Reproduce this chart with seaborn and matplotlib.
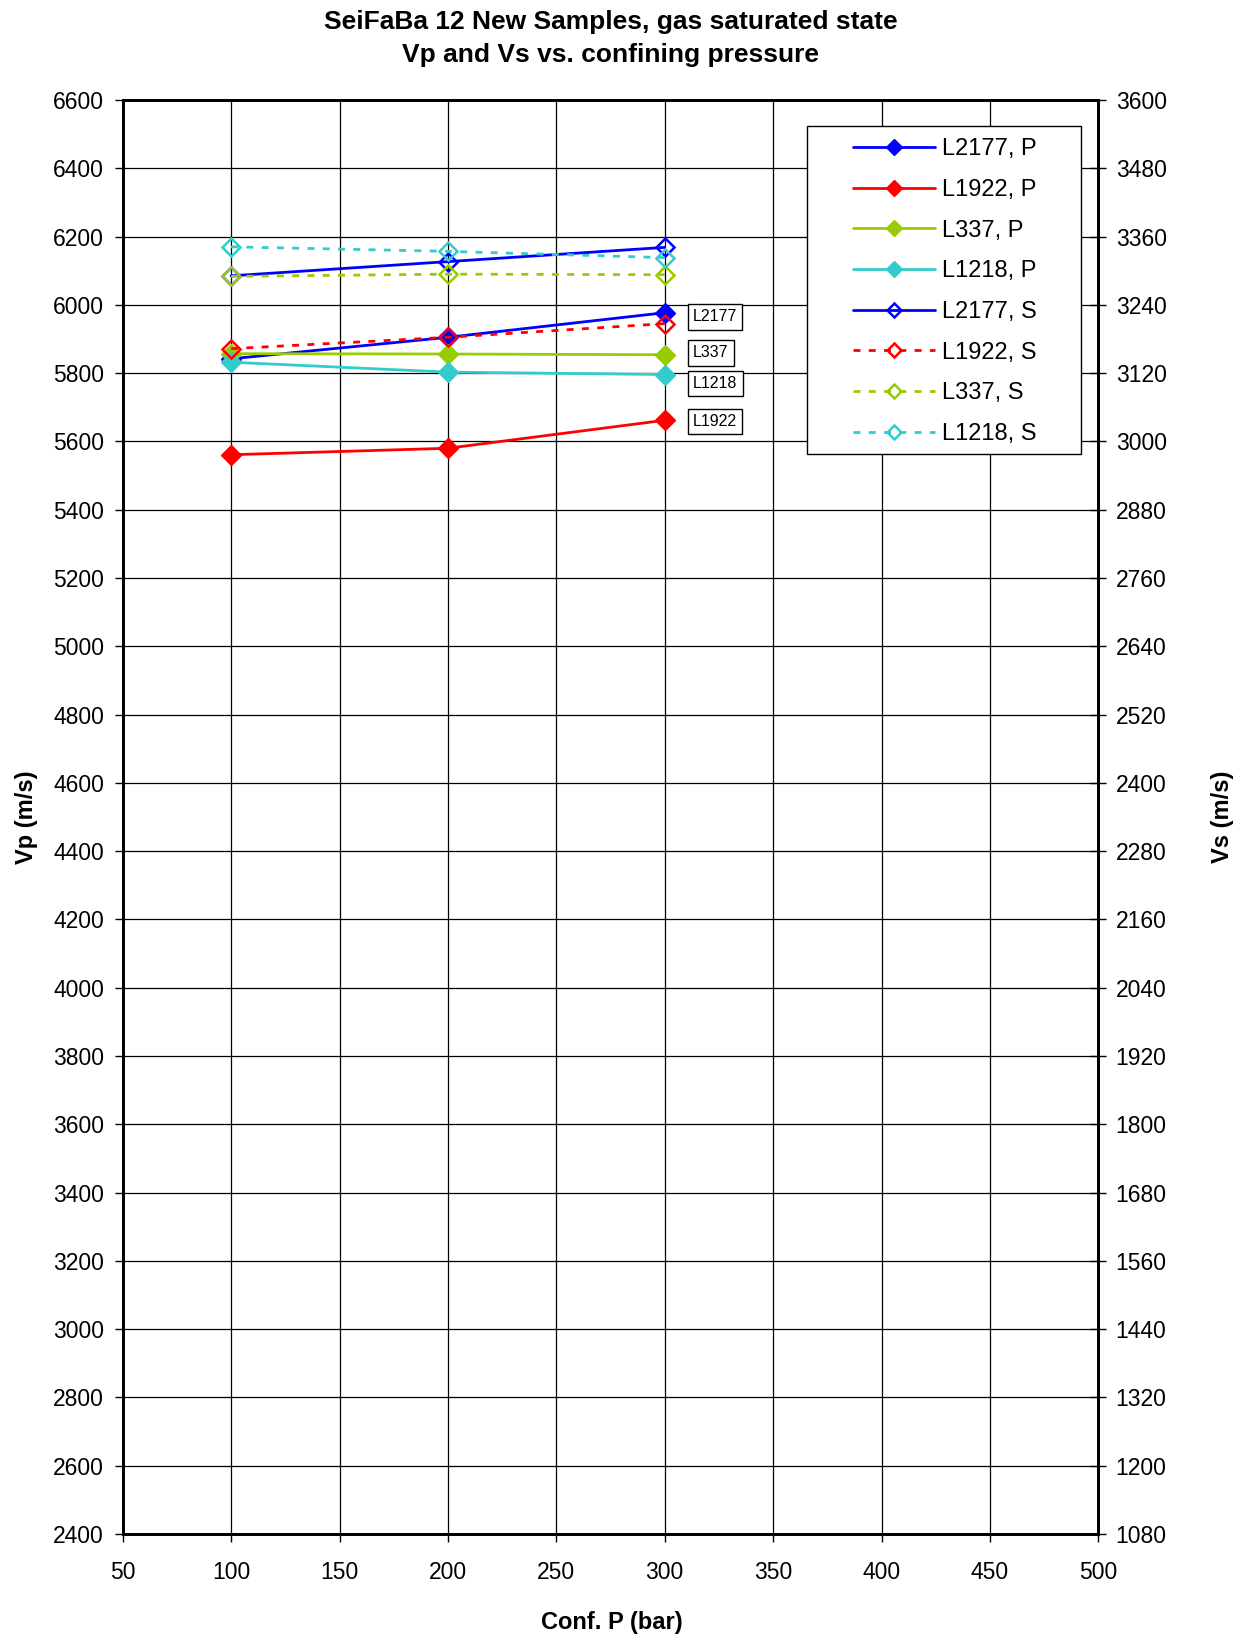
import seaborn as sns
import matplotlib.pyplot as plt
from matplotlib.patches import Rectangle

# Dados
pressao = [100, 200, 300]

vp_L2177 = [5842, 5905, 5977]
vp_L1922 = [5561, 5580, 5662]
vp_L337 = [5857, 5856, 5854]
vp_L1218 = [5832, 5803, 5796]

vs_L2177 = [3291, 3316, 3341]
vs_L1922 = [3163, 3183, 3207]
vs_L337 = [3290, 3294, 3293]
vs_L1218 = [3342, 3334, 3323]

amostras = ['L2177', 'L1922', 'L337', 'L1218']
cores = ['#0000FF', '#FF0000', '#99CC00', '#33CCCC']

# posicao das caixas de texto (x, y topo)
rotulos = ['L2177', 'L337', 'L1218', 'L1922']
rotulos_y = [5987, 5881, 5792, 5681]
rotulos_x = 313

sns.set_style('white')
plt.rcParams['font.family'] = ['Liberation Sans', 'DejaVu Sans']
plt.rcParams['text.color'] = 'black'

W, H = 1245, 1639
fig = plt.figure(figsize=(W / 100, H / 100), dpi=100)
ax = fig.add_axes([122.7 / W, 1 - 1534 / H, 975.6 / W, 1434 / H])
ax2 = ax.twinx()

vp = [vp_L2177, vp_L1922, vp_L337, vp_L1218]
vs = [vs_L2177, vs_L1922, vs_L337, vs_L1218]

# Vp - marcadores cheios
for nome, cor, valores in zip(amostras, cores, vp):
    sns.lineplot(x=pressao, y=valores, ax=ax, color=cor, lw=2,
                 marker='D', markersize=10, markerfacecolor=cor,
                 markeredgecolor=cor, markeredgewidth=1,
                 label=f'{nome}, P', legend=False)

# Vs - marcadores vazios
estilos = ['-', (0, (2.5, 3)), (0, (2.5, 3)), (0, (2.5, 3))]
for nome, cor, valores, ls in zip(amostras, cores, vs, estilos):
    sns.lineplot(x=pressao, y=valores, ax=ax2, color=cor, lw=2, linestyle=ls,
                 marker='D', markersize=9.3, markerfacecolor='none',
                 markeredgecolor=cor, markeredgewidth=1.8,
                 label=f'{nome}, S', legend=False)

# Eixos
ax.set_xlim(50, 500)
ax.set_ylim(2400, 6600)
ax2.set_ylim(1080, 3600)
ax.set_xticks(range(50, 501, 50))
ax.set_yticks(range(2400, 6601, 200))
ax2.set_yticks(range(1080, 3601, 120))
ax.set_xlabel('')
ax.set_ylabel('')
ax2.set_ylabel('')

ax.grid(True, color='black', lw=0.9)
ax.set_axisbelow(True)
ax2.grid(False)

for a in (ax, ax2):
    for s in a.spines.values():
        s.set_color('black')
        s.set_linewidth(2)
        s.set_visible(True)

ax.tick_params(axis='y', direction='out', length=5.5, width=1, pad=8,
               labelsize=16.5, colors='black', left=True)
ax.tick_params(axis='x', direction='out', length=5.5, width=1, pad=14,
               labelsize=16.5, colors='black', bottom=True)
ax2.tick_params(axis='y', direction='inout', length=11, width=1, pad=7,
                labelsize=16.5, colors='black', right=True)

# Caixas de texto
for txt, yy in zip(rotulos, rotulos_y):
    ax.text(rotulos_x, yy, txt, fontsize=11.5, ha='left', va='top', zorder=6,
            color='black',
            bbox=dict(boxstyle='square,pad=0.33', fc='white', ec='black', lw=1))

# Titulo e rotulos
fig.text(610.5 / W, 1 - 29.5 / H, 'SeiFaBa 12 New Samples, gas saturated state',
         ha='center', va='baseline', fontsize=19, fontweight='bold', color='black')
fig.text(610.5 / W, 1 - 62 / H, 'Vp and Vs vs. confining pressure',
         ha='center', va='baseline', fontsize=19, fontweight='bold', color='black')
fig.text(611.7 / W, 1 - 1629 / H, 'Conf. P (bar)', ha='center', va='baseline',
         fontsize=17, fontweight='bold', color='black')
fig.text(27 / W, 1 - 817 / H, 'Vp (m/s)', ha='center', va='center',
         rotation=90, fontsize=17, fontweight='bold', color='black')
fig.text(1223 / W, 1 - 817 / H, 'Vs (m/s)', ha='center', va='center',
         rotation=90, fontsize=17, fontweight='bold', color='black')

# Legenda
moldura = Rectangle((806.7 / W, 1 - 454.3 / H), 274.3 / W, 328.3 / H,
                    transform=fig.transFigure, fc='white', ec='black', lw=1,
                    zorder=4, clip_on=False)
ax2.add_patch(moldura)
linhas = ax.get_lines() + ax2.get_lines()
leg = ax2.legend(handles=linhas, labels=[l.get_label() for l in linhas],
                 loc='upper left', bbox_to_anchor=(852.7 / W, 1 - 138.3 / H),
                 bbox_transform=fig.transFigure, frameon=False, borderpad=0,
                 borderaxespad=0, fontsize=17, handlelength=3.49,
                 handletextpad=0.28, labelspacing=0.79, markerscale=0.78,
                 numpoints=1, labelcolor='black')
leg.set_zorder(5)

plt.savefig('out.png', dpi=100)
